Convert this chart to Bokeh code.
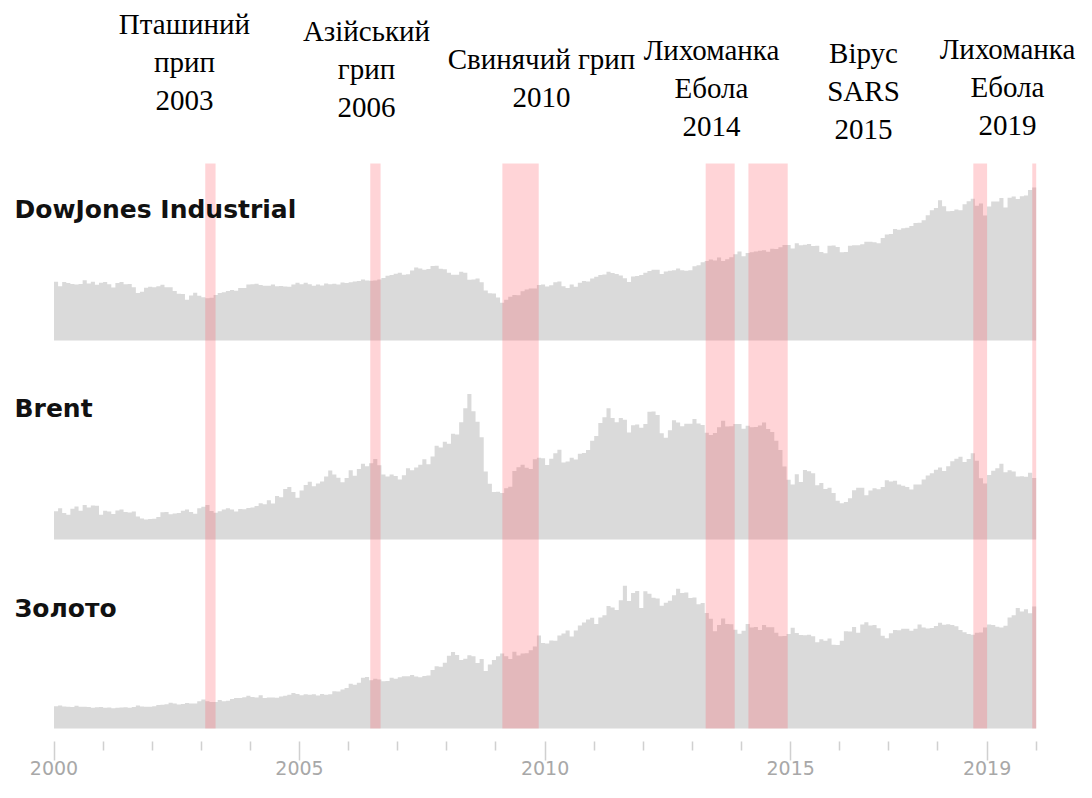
from bokeh.plotting import figure
from bokeh.models import ColumnDataSource, Range1d, LinearAxis, FixedTicker
from bokeh.embed import file_html
from bokeh.resources import INLINE
from bokeh.core.properties import value

# ---------------- data (monthly, Jan 2000 .. Dec 2019) ----------------
first_year = 2000
dow = [
    10941, 10128, 10922, 10734, 10522, 10448, 10522, 11215, 10651, 10971, 10415, 10787,
    10887, 10495, 9879, 10735, 10912, 10502, 10523, 9950, 8848, 9075, 9852, 10022,
    9920, 10106, 10404, 9946, 9925, 9243, 8737, 8664, 7592, 8397, 8896, 8342,
    8054, 7891, 7992, 8480, 8850, 8985, 9234, 9416, 9275, 9801, 9782, 10454,
    10488, 10584, 10358, 10226, 10188, 10435, 10140, 10174, 10080, 10027, 10428, 10783,
    10490, 10766, 10504, 10193, 10467, 10275, 10641, 10482, 10569, 10440, 10806, 10718,
    10865, 10993, 11109, 11367, 11168, 11150, 11186, 11381, 11679, 12081, 12221, 12463,
    12622, 12269, 12354, 13063, 13628, 13409, 13212, 13358, 13896, 13930, 13372, 13265,
    12650, 12266, 12263, 12820, 12638, 11350, 11378, 11544, 10851, 9325, 8829, 8776,
    8001, 7063, 7609, 8168, 8500, 8447, 9172, 9496, 9712, 9713, 10345, 10428,
    10067, 10325, 10857, 11009, 10137, 9774, 10466, 10015, 10788, 11118, 11006, 11578,
    11892, 12226, 12320, 12811, 12570, 12414, 12143, 11614, 10913, 11955, 12046, 12218,
    12633, 12952, 13212, 13214, 12393, 12880, 13009, 13091, 13437, 13096, 13026, 13104,
    13861, 14054, 14579, 14840, 15116, 14910, 15500, 14810, 15130, 15546, 16086, 16577,
    15699, 16322, 16458, 16581, 16717, 16827, 16563, 17098, 17043, 17391, 17828, 17823,
    17165, 18133, 17776, 17841, 18011, 17620, 17690, 16528, 16285, 17664, 17720, 17425,
    16466, 16517, 17685, 17774, 17787, 17930, 18432, 18401, 18308, 18142, 19124, 19763,
    19864, 20812, 20663, 20941, 21009, 21350, 21891, 21948, 22405, 23377, 24272, 24719,
    26149, 25029, 24103, 24163, 24416, 24271, 25415, 25965, 26458, 25116, 25538, 23327,
    24999, 25916, 25929, 26593, 24815, 26600, 26864, 26403, 26917, 27046, 28051, 28538,
]
brent = [
    27.1, 29.9, 25.4, 23.8, 29.5, 31.7, 27.6, 33.2, 30.8, 32.7, 32.5, 23.7,
    27.5, 27.0, 24.4, 27.9, 28.9, 26.4, 25.9, 26.8, 22.1, 20.2, 19.1, 19.8,
    19.9, 21.7, 26.2, 26.3, 24.2, 25.0, 25.4, 27.6, 28.7, 26.5, 24.7, 30.1,
    31.4, 33.2, 27.3, 25.6, 27.1, 28.7, 29.9, 28.8, 26.9, 29.2, 29.0, 30.2,
    30.7, 32.1, 34.7, 33.8, 37.6, 34.6, 41.8, 40.6, 48.6, 50.3, 45.7, 40.2,
    47.1, 52.4, 55.5, 51.1, 53.7, 55.6, 60.6, 66.2, 62.5, 59.4, 54.9, 59.0,
    66.4, 61.1, 67.8, 72.8, 70.3, 73.1, 77.2, 71.4, 62.4, 60.4, 62.4, 60.9,
    57.5, 61.8, 68.4, 66.6, 69.2, 71.7, 77.1, 72.2, 79.8, 90.0, 88.3, 93.9,
    91.9, 101.6, 100.9, 112.6, 125.9, 139.8, 123.1, 113.0, 98.2, 65.3, 53.5, 45.6,
    45.9, 44.6, 49.2, 50.7, 65.7, 69.3, 71.7, 69.0, 67.7, 77.0, 78.5, 77.9,
    71.5, 77.6, 82.7, 86.2, 74.0, 75.0, 78.4, 76.7, 82.3, 83.0, 85.9, 94.8,
    99.4, 111.8, 117.4, 125.9, 116.7, 112.5, 116.7, 114.9, 102.8, 109.6, 110.5, 107.4,
    110.9, 122.7, 122.9, 119.5, 101.9, 97.8, 104.9, 114.6, 112.4, 108.7, 111.2, 111.1,
    115.6, 111.4, 110.0, 102.4, 100.4, 102.2, 107.7, 114.0, 108.4, 108.8, 110.8, 110.8,
    106.4, 109.1, 107.8, 108.1, 109.4, 112.4, 106.0, 103.2, 94.7, 85.9, 70.2, 57.3,
    52.9, 62.6, 55.1, 66.8, 65.6, 63.6, 52.2, 54.2, 48.4, 49.6, 44.6, 37.3,
    34.7, 36.0, 39.6, 47.4, 49.7, 49.7, 42.5, 47.0, 49.1, 48.3, 50.5, 56.8,
    55.7, 56.5, 52.8, 51.7, 50.3, 47.9, 52.7, 52.9, 57.5, 61.4, 63.6, 66.9,
    69.1, 65.8, 70.3, 75.2, 77.6, 79.4, 74.3, 77.4, 82.7, 75.5, 58.7, 53.8,
    61.9, 66.0, 68.4, 72.8, 64.5, 66.6, 65.2, 60.4, 60.8, 60.2, 64.0, 59.0,
]
gold = [
    283, 293, 278, 275, 272, 288, 276, 277, 273, 264, 270, 272,
    265, 267, 258, 264, 267, 270, 265, 273, 293, 279, 275, 277,
    282, 297, 301, 308, 326, 318, 304, 312, 323, 317, 318, 347,
    367, 347, 335, 336, 361, 346, 354, 375, 388, 386, 398, 416,
    399, 395, 423, 388, 393, 395, 391, 407, 415, 429, 452, 438,
    422, 435, 428, 435, 418, 437, 430, 434, 473, 470, 495, 513,
    568, 556, 582, 644, 653, 613, 632, 623, 599, 604, 646, 632,
    650, 665, 662, 678, 659, 650, 666, 673, 743, 789, 783, 834,
    923, 971, 933, 871, 885, 930, 918, 833, 884, 730, 814, 869,
    919, 952, 916, 883, 975, 926, 954, 955, 995, 1040, 1182, 1087,
    1081, 1119, 1113, 1180, 1207, 1244, 1169, 1246, 1307, 1346, 1384, 1405,
    1327, 1411, 1439, 1556, 1536, 1505, 1628, 1813, 1620, 1722, 1746, 1531,
    1744, 1711, 1662, 1651, 1558, 1598, 1622, 1692, 1776, 1720, 1726, 1657,
    1664, 1579, 1595, 1467, 1393, 1234, 1315, 1396, 1327, 1323, 1253, 1202,
    1240, 1326, 1284, 1288, 1250, 1315, 1285, 1286, 1217, 1172, 1175, 1199,
    1279, 1212, 1187, 1183, 1190, 1172, 1095, 1135, 1115, 1142, 1065, 1060,
    1116, 1234, 1233, 1290, 1215, 1321, 1350, 1309, 1316, 1274, 1178, 1146,
    1211, 1250, 1248, 1268, 1268, 1242, 1268, 1320, 1283, 1270, 1275, 1302,
    1343, 1318, 1325, 1315, 1298, 1252, 1223, 1201, 1192, 1215, 1220, 1282,
    1321, 1316, 1293, 1284, 1305, 1409, 1437, 1529, 1485, 1513, 1465, 1550,
]

series_names = ["DowJones Industrial", "Brent", "Золото"]

# epidemic periods (shaded bands), in fractional years
event_start = [2003.08, 2006.44, 2009.13, 2013.27, 2014.14, 2018.72, 2019.92]
event_end = [2003.29, 2006.65, 2009.87, 2013.86, 2014.94, 2019.00, 2020.00]

# event labels (lines of text)
event_lines = [
    ["Пташиний", "прип", "2003"],
    ["Азійський", "грип", "2006"],
    ["Свинячий грип", "2010"],
    ["Лихоманка", "Ебола", "2014"],
    ["Вірус", "SARS", "2015"],
    ["Лихоманка", "Ебола", "2019"],
]

major_ticks = [2000, 2005, 2010, 2015, 2019]
minor_ticks = [2001, 2002, 2003, 2004, 2006, 2007, 2008, 2009, 2011, 2012,
               2013, 2014, 2016, 2017, 2018, 2020]

# ---------------- layout (pixels on the canvas) ----------------
W, H, FRAME_H = 1076, 782, 741
X0_PX, PX_PER_YEAR = 53.5, 49.11          # canvas x of Jan 2000, px per year
# (baseline canvas y, value per pixel) for each panel
panel_scale = {"dow": (340, 186.5), "brent": (539, 0.96), "gold": (728, 12.7)}
BAND_TOP_PX = 163


def yr_at(px):
    return first_year + (px - X0_PX) / PX_PER_YEAR


def gold_val_at(py):
    base, per = panel_scale["gold"]
    return (base - py) * per


def panel_range(key):
    base, per = panel_scale[key]
    return Range1d(-(FRAME_H - base) * per, base * per)


p = figure(width=W, height=H, output_backend="svg", toolbar_location=None,
           x_range=Range1d(yr_at(0), yr_at(W)), y_range=panel_range("gold"),
           x_axis_type=None, y_axis_type=None,
           min_border_left=0, min_border_right=0, min_border_top=0,
           min_border_bottom=H - FRAME_H, outline_line_color=None,
           background_fill_color="white", border_fill_color="white")
p.extra_y_ranges = {"dow": panel_range("dow"), "brent": panel_range("brent")}

# monthly steps -> one closed area per series (no seams between months)
step_x, step_dow, step_brent, step_gold = [], [], [], []
for i in range(len(dow)):
    x0 = first_year + i / 12
    step_x += [x0, x0 + 1 / 12]
    step_dow += [dow[i], dow[i]]
    step_brent += [brent[i], brent[i]]
    step_gold += [gold[i], gold[i]]
src = ColumnDataSource(dict(x=step_x, dow=step_dow, brent=step_brent, gold=step_gold))

GREY = "#dadada"
p.varea(x="x", y1=0, y2="dow", source=src, fill_color=GREY, y_range_name="dow")
p.varea(x="x", y1=0, y2="brent", source=src, fill_color=GREY, y_range_name="brent")
p.varea(x="x", y1=0, y2="gold", source=src, fill_color=GREY)

# shaded epidemic bands
p.quad(left=event_start, right=event_end, bottom=0, top=gold_val_at(BAND_TOP_PX),
       fill_color="#ff4a58", fill_alpha=0.24, line_color=None)

# panel titles (vertical centre of capitals)
title_px_y = [209, 408, 608]
p.text(x=[yr_at(14)] * 3, y=[gold_val_at(v) for v in title_px_y], text=series_names,
       text_font=value("DejaVu Sans"), text_font_style="bold", text_font_size="25px",
       text_color="#111111", text_align="left", text_baseline="middle")

# event labels above the chart (vertical centre of first line)
label_cx_px = [184, 366, 541, 711, 863, 1007]
label_first_center_px = [23, 30, 58, 49, 52, 48]
LINE_H = 38.5
lx, ly, lt = [], [], []
for cx, c0, lines in zip(label_cx_px, label_first_center_px, event_lines):
    for k, t in enumerate(lines):
        lx.append(yr_at(cx))
        ly.append(gold_val_at(c0 + k * LINE_H))
        lt.append(t)
p.text(x=lx, y=ly, text=lt, text_font=value("Liberation Serif"), text_font_size="29px",
       text_color="black", text_align="center", text_baseline="middle")

# x axis
ax = LinearAxis(ticker=FixedTicker(ticks=major_ticks, minor_ticks=minor_ticks),
                major_label_overrides={t: str(t) for t in major_ticks})
ax.axis_line_color = None
ax.major_tick_line_color = "#d0d0d0"
ax.minor_tick_line_color = "#d0d0d0"
ax.major_tick_line_width = 1.5
ax.minor_tick_line_width = 1.5
ax.major_tick_in = 0
ax.major_tick_out = 19
ax.minor_tick_in = 0
ax.minor_tick_out = 9
ax.major_label_standoff = 0
ax.major_label_text_font = "DejaVu Sans"
ax.major_label_text_font_size = "19px"
ax.major_label_text_color = "#a8a8a8"
p.add_layout(ax, "below")

open("out.html", "w").write(file_html(p, INLINE))
